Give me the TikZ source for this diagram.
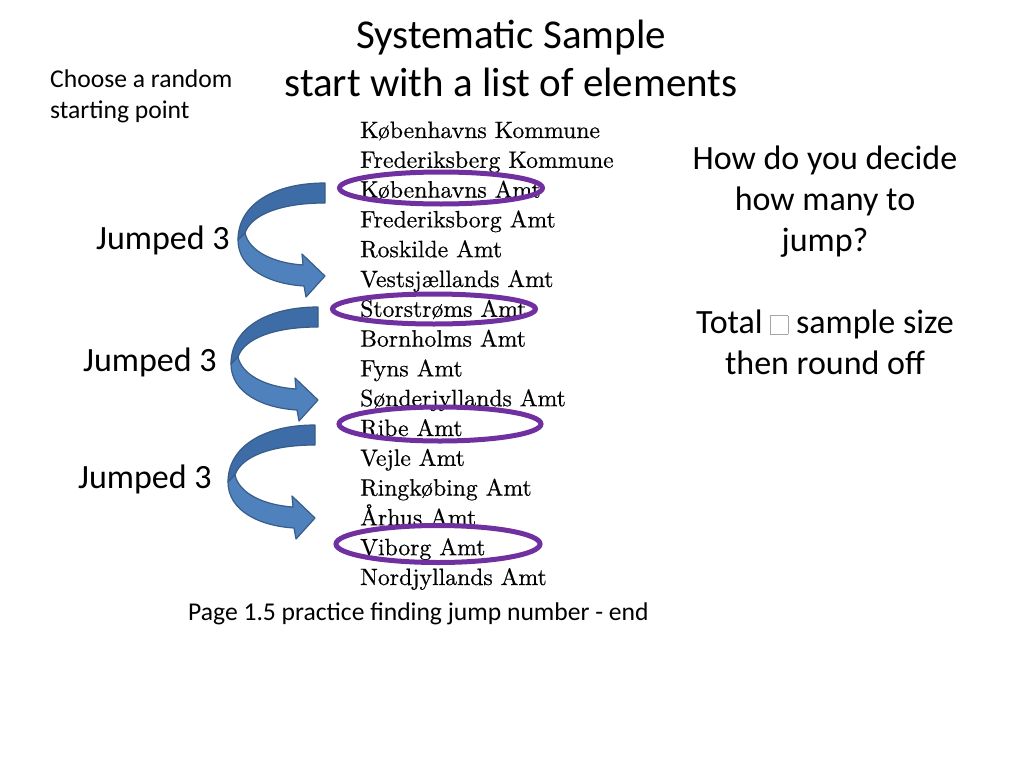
\documentclass[tikz,border=0pt]{standalone}
\usepackage{fontspec}
\setmainfont{Carlito}
\newfontfamily\listfont[FakeBold=0.5]{lmroman10-regular.otf}
\usetikzlibrary{positioning}
\definecolor{ringpurple}{RGB}{112,48,160}
\definecolor{arrowback}{RGB}{61,108,166}
\definecolor{arrowfront}{RGB}{79,129,189}
\definecolor{arrowline}{RGB}{56,93,138}
\newcommand{\nobox}{{\color{gray!70}\setlength{\fboxsep}{0pt}\setlength{\fboxrule}{0.8pt}\fbox{\rule{0pt}{0.52em}\hspace{0.48em}}}}

\begin{document}
\begin{tikzpicture}[x=1pt,y=-1pt,
    title/.style={font=\fontsize{41}{48}\selectfont,align=center,anchor=north,inner sep=0pt},
    note/.style={font=\fontsize{34}{41}\selectfont,inner sep=0pt},
    small/.style={font=\fontsize{25.6}{31}\selectfont,inner sep=0pt},
    entry/.style={font=\listfont\fontsize{23.7}{28}\selectfont,inner sep=0pt,text height=16pt,text depth=0pt},
    ring/.style={draw=ringpurple,line width=5pt},
    jumparrow/.pic={
      \filldraw[fill=arrowback,draw=arrowline,line width=1.2pt,line join=round]
        (0,0) -- (0,20) .. controls (-45,20) and (-74,32) .. (-80,50)
        -- (-87,57) .. controls (-87,22) and (-52,0) .. (0,0) -- cycle;
      \filldraw[fill=arrowfront,draw=arrowline,line width=1.2pt,line join=round]
        (-87,57) .. controls (-87,86) and (-55,101) .. (-21,103)
        -- (-19,114) -- (0,93) -- (-23,71) -- (-22,82)
        .. controls (-52,80) and (-76,68) .. (-80,50) -- cycle;
    }]

  \fill[white] (0,0) rectangle (1024,768);
  \useasboundingbox (0,0) rectangle (1024,768);

  % headings
  \node[title] (head) at (511,20) {Systematic Sample\\start with a list of elements};
  \node[small,align=left,anchor=north west] (start) at (50,70) {Choose a random\\starting point};
  \node[note,align=center,anchor=north] (howmany) at (825,146)
    {How do you decide\\how many to\\jump?\\[41pt]Total \nobox{} sample size\\then round off};

  % the jumps
  \pic at (325,183) {jumparrow};
  \pic at (318,307) {jumparrow};
  \pic at (315,425) {jumparrow};
  \node[note,anchor=base west] (j1) at (96,249) {Jumped 3};
  \node[note,anchor=base west] (j2) at (83,371) {Jumped 3};
  \node[note,anchor=base west] (j3) at (78,488) {Jumped 3};

  % list of elements
  \node[entry,anchor=west] (e1) at (360,130) {Københavns Kommune};
  \node[entry,below=29.8pt of e1.west,anchor=west] (e2) {Frederiksberg Kommune};
  \node[entry,below=29.8pt of e2.west,anchor=west] (e3) {Københavns Amt};
  \node[entry,below=29.8pt of e3.west,anchor=west] (e4) {Frederiksborg Amt};
  \node[entry,below=29.8pt of e4.west,anchor=west] (e5) {Roskilde Amt};
  \node[entry,below=29.8pt of e5.west,anchor=west] (e6) {Vestsjællands Amt};
  \node[entry,below=29.8pt of e6.west,anchor=west] (e7) {Storstrøms Amt};
  \node[entry,below=29.8pt of e7.west,anchor=west] (e8) {Bornholms Amt};
  \node[entry,below=29.8pt of e8.west,anchor=west] (e9) {Fyns Amt};
  \node[entry,below=29.8pt of e9.west,anchor=west] (e10) {Sønderjyllands Amt};
  \node[entry,below=29.8pt of e10.west,anchor=west] (e11) {Ribe Amt};
  \node[entry,below=29.8pt of e11.west,anchor=west] (e12) {Vejle Amt};
  \node[entry,below=29.8pt of e12.west,anchor=west] (e13) {Ringkøbing Amt};
  \node[entry,below=29.8pt of e13.west,anchor=west] (e14) {Århus Amt};
  \node[entry,below=29.8pt of e14.west,anchor=west] (e15) {Viborg Amt};
  \node[entry,below=29.8pt of e15.west,anchor=west] (e16) {Nordjyllands Amt};

  % the picks
  \draw[ring] (441,188) ellipse [x radius=101.5,y radius=16];
  \draw[ring] (434,309) ellipse [x radius=101.5,y radius=15];
  \draw[ring] (440,424) ellipse [x radius=101,y radius=17];
  \draw[ring] (438,544) ellipse [x radius=102,y radius=18.5];

  \node[small,anchor=base west] (page) at (188,620) {Page 1.5 practice finding jump number - end};
\end{tikzpicture}
\end{document}
